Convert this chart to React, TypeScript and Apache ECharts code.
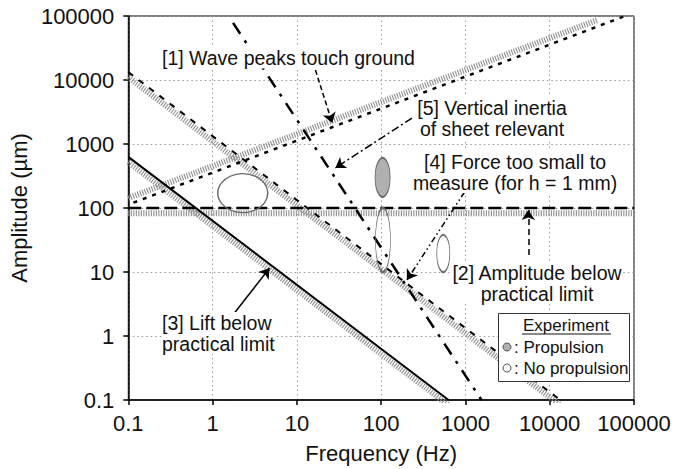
import React, { useEffect, useRef } from "react";
import * as echarts from "echarts";

// ---- Data ----
const tickLabels = ["0.1", "1", "10", "100", "1000", "10000", "100000"];

// [1] Wave peaks touch ground (hatched rising band and dotted boundary)
const waveTouchBand: number[][] = [[0.1, 143], [37000, 87000]];
const waveTouchDotted: number[][] = [[0.115, 121], [78400, 100000]];
// [2] Amplitude below practical limit
const amplitudeLimit: number[][] = [[0.1, 100], [100000, 100]];
// [3] Lift below practical limit
const liftLimit: number[][] = [[0.1, 630], [630, 0.1]];
// [4] Force too small to measure
const forceLimit: number[][] = [[0.1, 13300], [13300, 0.1]];
// [5] Vertical inertia of sheet relevant
const inertiaLimit: number[][] = [[1.75, 78000], [1550, 0.1]];

// Experiment regions (centre frequency, centre amplitude)
const propulsionRegions: number[][] = [[104, 300]];
const noPropulsionRegions: number[][] = [[2.28, 171], [105, 31.6], [546, 19.5]];

// Annotation arrows [from, to]
const arrowWave: number[][] = [[16.6, 14300], [26.3, 2128]];
const arrowInertia: number[][] = [[232, 2545], [28.6, 422]];
const arrowForce: number[][] = [[977, 178], [202, 7.5]];
const arrowAmplitude: number[][] = [[5570, 18.4], [5570, 93]];
const arrowLift: number[][] = [[1.74, 2.13], [4.74, 11.5]];

// ---- Styles ----
const FONT = '"Liberation Sans", Arial, Helvetica, sans-serif';
const BAND_SHIFT = 0.83; // visual offset of the hatched side of a limit line
const propulsionSizes = [[15, 39]];
const noPropulsionSizes = [[50, 39], [15, 64], [13, 37]];
const HATCH_GRAY = "#b0b0b0";

function shift(d: number[][], k: number) {
  return d.map(([x, y]) => [x, y * k]);
}

function line(data: number[][], lineStyle: any, z = 2) {
  return {
    type: "line",
    data,
    symbol: "none",
    showSymbol: false,
    silent: true,
    clip: true,
    z,
    lineStyle,
  };
}

function arrow(coords: number[][], type: any) {
  return {
    type: "lines",
    coordinateSystem: "cartesian2d",
    silent: true,
    z: 5,
    symbol: ["none", "arrow"],
    symbolSize: 10,
    lineStyle: { color: "#000", width: 1.5, type, opacity: 1 },
    data: [{ coords }],
  };
}

function label(text: string, x: number, y: number, align: string, size = 19.5) {
  return {
    type: "text",
    x,
    y,
    z: 50,
    style: {
      text,
      font: `${size}px ${FONT}`,
      fill: "#111",
      textAlign: align,
      textVerticalAlign: "middle",
      lineHeight: 21,
      backgroundColor: "#fff",
    },
  };
}

function legendText(text: string, x: number, y: number, align: string) {
  return {
    type: "text",
    x,
    y,
    z: 71,
    style: {
      text,
      font: `17px ${FONT}`,
      fill: "#111",
      textAlign: align,
      textVerticalAlign: "middle",
    },
  };
}

export default function App() {
  const ref = useRef<HTMLDivElement>(null);
  useEffect(() => {
    if (!ref.current) return;
    const chart = echarts.init(ref.current, undefined, { renderer: "svg" });
    const bandStyle = (w = 6) => ({ color: "#8f8f8f", width: w, type: [1.1, 1.4] });

    const axisCommon = {
      type: "log",
      logBase: 10,
      min: 0.1,
      max: 100000,
      axisLine: { show: true, lineStyle: { color: "#000", width: 1.5 } },
      axisTick: { show: true, length: 5, inside: false, lineStyle: { color: "#000", width: 1.5 } },
      minorTick: { show: false },
      splitLine: { show: true, lineStyle: { color: "#9a9a9a", width: 1, type: [1.5, 3] } },
      axisLabel: {
        color: "#111",
        fontSize: 22,
        fontFamily: FONT,
        formatter: (v: number) => tickLabels[Math.round(Math.log10(v)) + 1] ?? "",
      },
      nameLocation: "middle",
      nameTextStyle: { color: "#111", fontSize: 22, fontFamily: FONT },
    };

    chart.setOption({
      animation: false,
      grid: {
        left: 125,
        right: 56,
        top: 16,
        bottom: 68,
        show: true,
        borderColor: "#000",
        borderWidth: 1,
        backgroundColor: "#fff",
      },
      xAxis: {
        ...axisCommon,
        name: "Frequency (Hz)",
        nameGap: 42,
        axisLabel: { ...axisCommon.axisLabel, margin: 12 },
      },
      yAxis: {
        ...axisCommon,
        name: "Amplitude (\u00b5m)",
        nameGap: 70,
        axisLabel: { ...axisCommon.axisLabel, margin: 14 },
      },
      series: [
        // hatched sides
        line(waveTouchBand, bandStyle(6), 1),
        line(shift(amplitudeLimit, BAND_SHIFT), bandStyle(6), 1),
        line(shift(forceLimit, BAND_SHIFT), bandStyle(6), 1),
        line(shift(liftLimit, BAND_SHIFT), bandStyle(6), 1),
        // limit lines
        line(waveTouchDotted, { color: "#000", width: 2.5, type: [4, 6] }),
        line(amplitudeLimit, { color: "#000", width: 2.5, type: [13, 5] }),
        line(forceLimit, { color: "#000", width: 2, type: [6, 7] }),
        line(liftLimit, { color: "#000", width: 2, type: "solid" }),
        line(inertiaLimit, { color: "#000", width: 2.5, type: [13, 8, 3, 8] }),
        // experiment regions
        {
          type: "scatter",
          data: noPropulsionRegions,
          symbol: "circle",
          symbolSize: (_v: any, p: any) => noPropulsionSizes[p.dataIndex],
          itemStyle: { color: "transparent", borderColor: "#6a6a6a", borderWidth: 1.3, opacity: 1 },
          silent: true,
          z: 3,
        },
        {
          type: "scatter",
          data: propulsionRegions,
          symbol: "circle",
          symbolSize: (_v: any, p: any) => propulsionSizes[p.dataIndex],
          itemStyle: { color: HATCH_GRAY, borderColor: "#666", borderWidth: 1.3, opacity: 1 },
          silent: true,
          z: 3,
        },
        // arrows
        arrow(arrowWave, [5, 3]),
        arrow(arrowInertia, [8, 3, 2, 3]),
        arrow(arrowForce, [6, 3, 1.5, 3, 1.5, 3]),
        arrow(arrowAmplitude, [6, 4]),
        arrow(arrowLift, "solid"),
      ],
      graphic: [
        label("[1] Wave peaks touch ground", 162, 58, "left"),
        label("[5] Vertical inertia\nof sheet relevant", 492, 118, "center"),
        label("[4] Force too small to\nmeasure (for h = 1 mm)", 515, 172, "center"),
        label("[2] Amplitude below\npractical limit", 537, 283, "center"),
        label("[3] Lift below\npractical limit", 162, 333, "left"),
        {
          type: "rect",
          z: 70,
          shape: { x: 498.5, y: 313.5, width: 131, height: 68 },
          style: { fill: "#fff", stroke: "#333", lineWidth: 1 },
        },
        legendText("Experiment", 566, 325, "center"),
        {
          type: "line",
          z: 71,
          shape: { x1: 522, y1: 334, x2: 611, y2: 334 },
          style: { stroke: "#111", lineWidth: 1 },
        },
        {
          type: "circle",
          z: 71,
          shape: { cx: 507, cy: 347, r: 4 },
          style: { fill: HATCH_GRAY, stroke: "#555", lineWidth: 1 },
        },
        legendText(": Propulsion", 514, 347, "left"),
        {
          type: "circle",
          z: 71,
          shape: { cx: 507, cy: 368, r: 4 },
          style: { fill: "#fff", stroke: "#555", lineWidth: 1 },
        },
        legendText(": No propulsion", 514, 368, "left"),
      ],
    });
    return () => chart.dispose();
  }, []);
  return (
    <div
      ref={ref}
      style={{ position: "fixed", left: 0, top: 0, width: 690, height: 469, background: "#fff" }}
    />
  );
}
